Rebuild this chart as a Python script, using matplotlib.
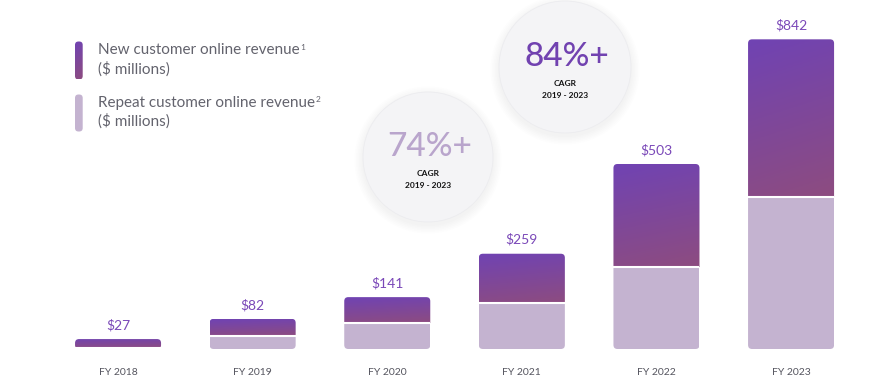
import numpy as np
import matplotlib
matplotlib.use('Agg')
import matplotlib.pyplot as plt
from matplotlib.patches import FancyBboxPatch, Circle
from matplotlib.colors import LinearSegmentedColormap

plt.rcParams['font.family'] = ['Lato', 'DejaVu Sans']

# data ($ millions)
years = ['FY 2018', 'FY 2019', 'FY 2020', 'FY 2021', 'FY 2022', 'FY 2023']
new_rev = [25, 46, 69, 135, 281, 428]
repeat_rev = [2, 36, 72, 124, 222, 414]
totals = ['$27', '$82', '$141', '$259', '$503', '$842']

PURPLE_TOP = '#7043B3'
PURPLE_BOT = '#8D4C80'
LIGHT = '#C4B3D0'
LABEL = '#7A48B8'
GREY = '#63636d'

grad_cmap = LinearSegmentedColormap.from_list('grad', [PURPLE_TOP, PURPLE_BOT])
u, v = np.meshgrid(np.linspace(0, 1, 60), np.linspace(0, 1, 60))
grad = 0.85 * v + 0.15 * u  # row 0 = top when origin='upper'

fig = plt.figure(figsize=(8.9, 3.9), dpi=100)

# overlay in pixel coordinates (legend, circles)
ov = fig.add_axes([0, 0, 1, 1])
ov.set_xlim(0, 890)
ov.set_ylim(390, 0)
ov.axis('off')

# bar axes
ax = fig.add_axes([0, 0, 1, 1], zorder=2)
ax.patch.set_alpha(0)
ax.set_xlim(-0.877, 5.735)
ax.set_ylim(-111.5, 948.9)
ax.axis('off')

x = np.arange(len(years))
w = 0.639
px_x = 890 / (5.735 + 0.877)
px_y = 390 / (948.9 + 111.5)
r = 4 / px_x
aspect = px_x / px_y

for i in range(len(years)):
    tot = new_rev[i] + repeat_rev[i]
    box = FancyBboxPatch((x[i] - w / 2, 0), w, tot,
                         boxstyle=f'round,pad=0,rounding_size={r}',
                         mutation_aspect=aspect, facecolor='none',
                         edgecolor='none')
    ax.add_patch(box)
    b = ax.bar(x[i], repeat_rev[i], width=w, color=LIGHT, zorder=2)
    for p in b:
        p.set_clip_path(box)
    im = ax.imshow(grad, cmap=grad_cmap, aspect='auto', zorder=2,
                   extent=(x[i] - w / 2, x[i] + w / 2, repeat_rev[i], tot))
    im.set_clip_path(box)
    ax.hlines(repeat_rev[i], x[i] - w / 2, x[i] + w / 2, color='white',
              lw=1.5, zorder=3)
    ax.text(x[i], tot + 14 / px_y, totals[i], ha='center', va='center',
            color=LABEL, fontsize=10)
    ax.text(x[i], -24 / px_y, years[i], ha='center', va='center',
            color='#55555f', fontsize=7.5)

# legend
def pill(ax_, x0, y0, wd, ht, color=None):
    p = FancyBboxPatch((x0, y0), wd, ht, boxstyle='round,pad=0,rounding_size=3.5',
                       facecolor=color if color else 'none', edgecolor='none')
    ax_.add_patch(p)
    if color is None:
        im = ax_.imshow(grad, cmap=grad_cmap, aspect='auto',
                        extent=(x0, x0 + wd, y0 + ht, y0), zorder=2)
        im.set_clip_path(p)

pill(ov, 75, 41.5, 7.7, 38)
pill(ov, 75, 94.5, 7.7, 37, LIGHT)
t1 = ov.text(98, 50.5, 'New customer online revenue', va='center', color=GREY, fontsize=11)
ov.annotate('1', xy=(1, 0.75), xycoords=t1, xytext=(0.2, 0), textcoords='offset points',
            va='center', color=GREY, fontsize=6)
ov.text(98, 69.5, '($ millions)', va='center', color=GREY, fontsize=11)
t2 = ov.text(98, 103, 'Repeat customer online revenue', va='center', color=GREY, fontsize=11)
ov.annotate('2', xy=(1, 0.75), xycoords=t2, xytext=(0.2, 0), textcoords='offset points',
            va='center', color=GREY, fontsize=6)
ov.text(98, 121.5, '($ millions)', va='center', color=GREY, fontsize=11)

# CAGR circles
def bubble(cx, cy, rad, big, color):
    for k in range(6):
        ov.add_patch(Circle((cx, cy + 3), rad + 1 + k * 1.5, color='#9a9aa8',
                            alpha=0.015, lw=0))
    ov.add_patch(Circle((cx, cy), rad, facecolor='#f4f4f6', edgecolor='#ececef', lw=0.6))
    ov.text(cx + 2, cy - 10, big, ha='center', va='center', color=color,
            fontsize=24, fontweight='medium')
    ov.text(cx, cy + 17, 'CAGR', ha='center', va='center', color='#111111',
            fontsize=6, fontweight='bold')
    ov.text(cx, cy + 28.5, '2019 - 2023', ha='center', va='center',
            color='#111111', fontsize=6, fontweight='bold')

bubble(428, 157, 65, '74%+', '#B9A5CC')
bubble(565, 67, 66, '84%+', '#7142B0')

fig.savefig('out.png', dpi=100, facecolor='white')
